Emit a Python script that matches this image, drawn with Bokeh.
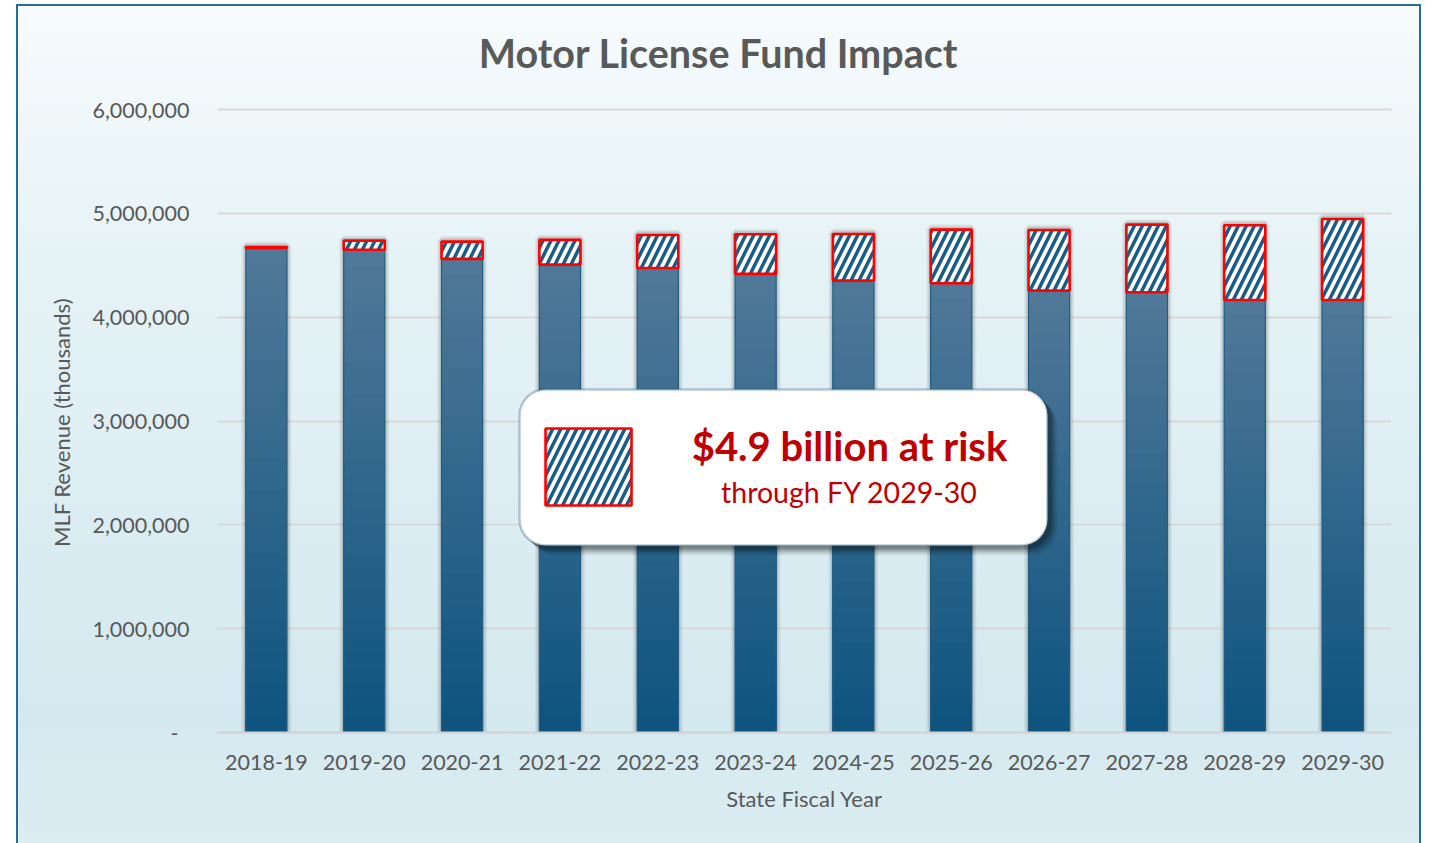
from bokeh.plotting import figure
from bokeh.models import BoxAnnotation, Label, NumeralTickFormatter, Range1d
from bokeh.embed import file_html
from bokeh.resources import INLINE

# ---------------- data ----------------
years = ["2018-19", "2019-20", "2020-21", "2021-22", "2022-23", "2023-24",
         "2024-25", "2025-26", "2026-27", "2027-28", "2028-29", "2029-30"]
base_revenue = [4667000, 4650000, 4561000, 4506000, 4474000, 4417000,
                4352000, 4326000, 4256000, 4240000, 4166000, 4166000]
at_risk = [8000, 87000, 167000, 238000, 318000, 381000,
           449000, 517000, 584000, 651000, 719000, 780000]
y_ticks = [0, 1000000, 2000000, 3000000, 4000000, 5000000, 6000000]
title_text = "Motor License Fund Impact"
x_label = "State Fiscal Year"
y_label = "MLF Revenue (thousands)"
callout_main = "$4.9 billion at risk"
callout_sub = "through FY 2029-30"

# ---------------- styling ----------------
FONT = "Lato"
GRAY = "#595959"
RED = "#c00000"
TOP_C = (80, 120, 152)
BOT_C = (14, 84, 127)
HATCH_C = "#1b5c87"

W, H = 1405, 839
# frame extends above the 6,000,000 gridline to leave room for the title
PX_PER_UNIT = 623.0 / 6000000
FRAME_TOP, FRAME_BOTTOM = 20, 728
y_end = (FRAME_BOTTOM - FRAME_TOP) / PX_PER_UNIT

p = figure(x_range=years, y_range=Range1d(0, y_end), width=W, height=H,
           output_backend="svg", toolbar_location=None,
           min_border_left=201, min_border_right=30,
           min_border_top=FRAME_TOP, min_border_bottom=H - FRAME_BOTTOM)
p.styles = {
    "margin-left": "16px",
    "margin-top": "4px",
    "background": "linear-gradient(180deg, #f7fbfd 0%, #e6f3f6 30%, #d3e9ef 85%, #dcedf2 100%)",
    "box-shadow": "inset 2px 2px 0 #2a6a93, inset -2px 0 0 #2a6a93",
}
p.border_fill_color = None
p.background_fill_color = None
p.outline_line_color = None

totals = [b + r for b, r in zip(base_revenue, at_risk)]
BW = 0.42

# soft shadow around bars
px_y = 1 / PX_PER_UNIT
for lw, a in [(9, 0.05), (6, 0.07), (3.5, 0.09)]:
    p.vbar(x=years, top=[t + px_y for t in totals], bottom=-px_y * 1.5, width=BW,
           fill_color=None, line_color="black", line_alpha=a, line_width=lw)

# base bars with vertical gradient (nested bars, darkest at the bottom)
N = 30
for k in range(N):
    frac = 1 - k / N
    t = k / (N - 1)
    c = tuple(int(round(TOP_C[i] + (BOT_C[i] - TOP_C[i]) * t)) for i in range(3))
    p.vbar(x=years, top=[b * frac for b in base_revenue], bottom=0, width=BW,
           fill_color="#%02x%02x%02x" % c, line_color=None)
p.vbar(x=years, top=base_revenue, bottom=0, width=BW,
       fill_color=None, line_color="#235e87", line_width=1.2)

# at-risk hatched portion
p.vbar(x=years, bottom=base_revenue, top=totals, width=BW,
       fill_color="white", hatch_pattern="/", hatch_color=HATCH_C,
       hatch_scale=16, hatch_weight=3.5,
       line_color="#ff0000", line_width=2.6)

# ---------------- axes ----------------
p.yaxis.ticker = y_ticks
p.yaxis.formatter = NumeralTickFormatter(format="0,0")
p.yaxis.major_label_overrides = {0: "-\u00a0\u00a0"}
for ax in (p.xaxis, p.yaxis):
    ax.major_label_text_font = FONT
    ax.major_label_text_font_size = "21.5px"
    ax.major_label_text_color = GRAY
    ax.axis_label_text_font = FONT
    ax.axis_label_text_font_size = "22px"
    ax.axis_label_text_color = GRAY
    ax.axis_label_text_font_style = "normal"
    ax.major_tick_line_color = None
    ax.minor_tick_line_color = None
p.yaxis.axis_line_color = None
p.yaxis.major_label_standoff = 22
# trailing en-spaces keep the label centred on the 0 - 6,000,000 span
p.yaxis.axis_label = y_label + "\u2002" * 8
p.yaxis.axis_label_standoff = 14
p.xaxis.axis_line_color = "#d2d2d2"
p.xaxis.axis_line_width = 2
p.xaxis.major_label_standoff = 16
p.xaxis.axis_label = x_label
p.xaxis.axis_label_standoff = 12
p.xgrid.grid_line_color = None
p.ygrid.grid_line_color = "#d9d9d9"
p.ygrid.grid_line_width = 2

# ---------------- title ----------------
p.add_layout(Label(x=5.121, y=(FRAME_BOTTOM - 48) / PX_PER_UNIT, text=title_text,
                   text_align="center", text_baseline="middle", text_font=FONT,
                   text_font_size="39.5px", text_font_style="bold",
                   text_color=GRAY))

# ---------------- callout ----------------
bx0, bx1 = 3.087, 8.484
by0, by1 = 1801000, 3303000
dx, dy = 0.01022, px_y
for off, a in [(10, 0.06), (8, 0.1), (6, 0.14), (4, 0.2)]:
    p.add_layout(BoxAnnotation(left=bx0 + off * dx, right=bx1 + off * dx,
                               bottom=by0 - off * dy, top=by1 - off * dy,
                               fill_color="black", fill_alpha=a, line_color=None,
                               border_radius=26))
p.add_layout(BoxAnnotation(left=bx0, right=bx1, bottom=by0, top=by1,
                           fill_color="white", fill_alpha=1.0,
                           line_color="#1d4f6e", line_width=2.5,
                           border_radius=26))
p.add_layout(BoxAnnotation(left=3.353, right=4.232, bottom=2186000, top=2928000,
                           fill_color="white", fill_alpha=1.0,
                           hatch_pattern="/", hatch_color=HATCH_C,
                           hatch_scale=16, hatch_weight=3.5, hatch_alpha=1.0,
                           line_color="#ff0000", line_width=2.6, line_alpha=1.0))
p.add_layout(Label(x=6.46, y=2755000, text=callout_main, text_align="center",
                   text_baseline="middle", text_font=FONT,
                   text_font_size="40px", text_font_style="bold",
                   text_color=RED))
p.add_layout(Label(x=6.46, y=2321000, text=callout_sub, text_align="center",
                   text_baseline="middle", text_font=FONT,
                   text_font_size="28.5px", text_color=RED))

open("out.html", "w").write(file_html(p, INLINE))
